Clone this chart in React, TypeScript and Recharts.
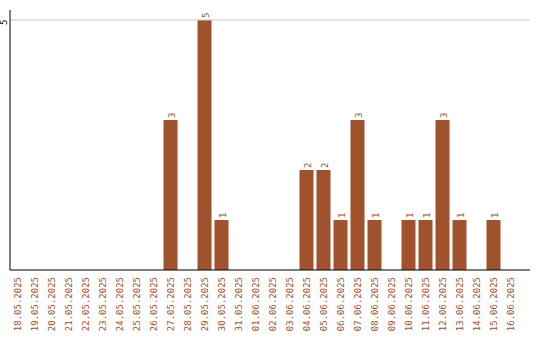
import React from "react";
import { BarChart, Bar, XAxis, YAxis, ReferenceLine, LabelList } from "recharts";

const dates = [
  "18.05.2025", "19.05.2025", "20.05.2025", "21.05.2025", "22.05.2025", "23.05.2025",
  "24.05.2025", "25.05.2025", "26.05.2025", "27.05.2025", "28.05.2025", "29.05.2025",
  "30.05.2025", "31.05.2025", "01.06.2025", "02.06.2025", "03.06.2025", "04.06.2025",
  "05.06.2025", "06.06.2025", "07.06.2025", "08.06.2025", "09.06.2025", "10.06.2025",
  "11.06.2025", "12.06.2025", "13.06.2025", "14.06.2025", "15.06.2025", "16.06.2025",
];
const counts = [0, 0, 0, 0, 0, 0, 0, 0, 0, 3, 0, 5, 1, 0, 0, 0, 0, 2, 2, 1, 3, 1, 0, 1, 1, 3, 1, 0, 1, 0];
const yTicks = [5];

const data = dates.map((d, i) => ({ date: d, value: counts[i] }));

const BROWN = "#A0522D";
const FONT = "'DejaVu Sans Mono', monospace";

const XTick = (props: any) => {
  const { x, y, payload } = props;
  const tx = x + 4;
  const ty = y - 1;
  return (
    <text
      x={tx}
      y={ty}
      transform={`rotate(-90, ${tx}, ${ty})`}
      textAnchor="end"
      fill={BROWN}
      fontSize={9}
      fontFamily={FONT}
    >
      {payload.value}
    </text>
  );
};

const YTick = (props: any) => {
  const { y, payload } = props;
  return (
    <text
      x={7}
      y={y + 5}
      transform={`rotate(-90, 7, ${y + 5})`}
      textAnchor="start"
      fill="#000"
      fontSize={9}
      fontFamily={FONT}
    >
      {payload.value}
    </text>
  );
};

const ValueLabel = (props: any) => {
  const { x, y, width, value } = props;
  if (!value) return null;
  const cx = x + width / 2 + 4;
  const cy = y - 2;
  return (
    <text
      x={cx}
      y={cy}
      transform={`rotate(-90, ${cx}, ${cy})`}
      textAnchor="start"
      fill={BROWN}
      fontSize={9}
      fontFamily={FONT}
    >
      {value}
    </text>
  );
};

export default function App() {
  return (
    <div style={{ position: "absolute", left: 0, top: 0, width: 540, height: 340, background: "#fff" }}>
      <BarChart
        width={540}
        height={340}
        data={data}
        margin={{ top: 10, right: 10, left: 0, bottom: 0 }}
      >
        <ReferenceLine y={5} stroke="#c8c8c8" ifOverflow="extendDomain" />
        <XAxis
          dataKey="date"
          interval={0}
          height={70}
          tickLine={false}
          axisLine={{ stroke: "#000" }}
          tick={<XTick />}
          padding={{ left: -1.5, right: 11.5 }}
        />
        <YAxis
          width={10}
          domain={[0, 5.2]}
          ticks={yTicks}
          tickLine={false}
          axisLine={{ stroke: "#000" }}
          tick={<YTick />}
        />
        <Bar dataKey="value" fill={BROWN} barSize={14} isAnimationActive={false}>
          <LabelList dataKey="value" content={<ValueLabel />} />
        </Bar>
      </BarChart>
    </div>
  );
}
